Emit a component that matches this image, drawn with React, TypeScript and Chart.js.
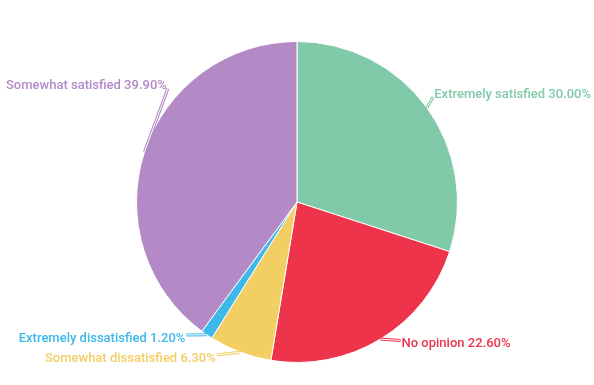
import React, { useEffect, useRef } from "react";
import { Chart, registerables } from "chart.js";

Chart.register(...registerables);

const categories = [
  "Extremely satisfied",
  "No opinion",
  "Somewhat dissatisfied",
  "Extremely dissatisfied",
  "Somewhat satisfied",
];
const values = [30.0, 22.6, 6.3, 1.2, 39.9];
const colors = ["#80C9A9", "#EE344B", "#F3CE63", "#3DB8E8", "#B389C6"];

const FONT_SIZE = 13;
const FONT = `500 ${FONT_SIZE}px Roboto`;
// label layout limits (fraction of label radius below the centre)
const MAX_DOWN = { right: 0.805, left: 0.888 };

const outLabels = {
  id: "outLabels",
  afterDraw(chart: any) {
    const ctx = chart.ctx as CanvasRenderingContext2D;
    const meta = chart.getDatasetMeta(0);
    const W = chart.width;
    ctx.save();
    ctx.font = FONT;
    const items = meta.data.map((arc: any, i: number) => {
      const p = arc.getProps(["x", "y", "startAngle", "endAngle", "outerRadius"], true);
      const mid = (p.startAngle + p.endAngle) / 2;
      const R = p.outerRadius + 14;
      const text = `${categories[i]} ${values[i].toFixed(2)}%`;
      return {
        i,
        cx: p.x,
        cy: p.y,
        r: p.outerRadius,
        R,
        mid,
        right: Math.cos(mid) >= 0,
        text,
        w: ctx.measureText(text).width,
        ly: p.y + R * Math.sin(mid),
        ax: 0,
      };
    });
    const GAP = 20;
    for (const side of [true, false]) {
      const list = items.filter((it: any) => it.right === side).sort((a: any, b: any) => a.ly - b.ly);
      for (let k = 1; k < list.length; k++) {
        if (list[k].ly < list[k - 1].ly + GAP) list[k].ly = list[k - 1].ly + GAP;
      }
      if (list.length) {
        const maxY = list[0].cy + list[0].R * (side ? MAX_DOWN.right : MAX_DOWN.left);
        const last = list[list.length - 1];
        if (last.ly > maxY) {
          last.ly = maxY;
          for (let k = list.length - 2; k >= 0; k--) {
            if (list[k].ly > list[k + 1].ly - GAP) list[k].ly = list[k + 1].ly - GAP;
          }
        }
      }
    }
    const capHalf = FONT_SIZE * 0.711 / 2;
    for (const it of items) {
      let dy = it.ly - it.cy;
      let dx = Math.sqrt(Math.max(it.R * it.R - dy * dy, 0));
      const maxDx = it.right ? W - 4 - it.w - it.cx : it.cx - 7 - it.w;
      if (dx > maxDx) {
        dx = maxDx;
        dy = Math.sign(dy || -1) * Math.sqrt(it.R * it.R - dx * dx);
        it.ly = it.cy + dy;
      }
      it.ax = it.right ? it.cx + dx : it.cx - dx;
      const ex = it.cx + it.r * Math.cos(it.mid);
      const ey = it.cy + it.r * Math.sin(it.mid);
      const endY = it.ly + (dy < 0 ? 4 : -2);
      const col = colors[it.i];
      ctx.lineJoin = "round";
      ctx.beginPath();
      ctx.moveTo(ex, ey);
      ctx.lineTo(it.ax, endY);
      ctx.strokeStyle = col;
      ctx.lineWidth = 3;
      ctx.stroke();
      ctx.beginPath();
      ctx.moveTo(ex, ey);
      ctx.lineTo(it.ax, endY);
      ctx.strokeStyle = "#ffffff";
      ctx.lineWidth = 1;
      ctx.stroke();
      ctx.fillStyle = col;
      ctx.textBaseline = "alphabetic";
      ctx.textAlign = it.right ? "left" : "right";
      ctx.fillText(it.text, it.right ? it.ax + 1 : it.ax - 1, it.ly + capHalf);
    }
    ctx.restore();
  },
};

export default function App() {
  const ref = useRef<HTMLCanvasElement>(null);
  useEffect(() => {
    document.body.style.margin = "0";
    const chart = new Chart(ref.current!, {
      type: "pie",
      data: {
        labels: categories,
        datasets: [
          {
            data: values,
            backgroundColor: colors,
            borderColor: "#ffffff",
            borderWidth: 1,
          },
        ],
      },
      options: {
        responsive: false,
        animation: false,
        layout: { padding: { top: 41, bottom: 22, left: 0, right: 0 } },
        plugins: { legend: { display: false }, tooltip: { enabled: false } },
      },
      plugins: [outLabels],
    });
    return () => chart.destroy();
  }, []);
  return (
    <div style={{ width: 594, height: 385, background: "#fff" }}>
      <canvas ref={ref} width={594} height={385} style={{ display: "block" }} />
    </div>
  );
}
